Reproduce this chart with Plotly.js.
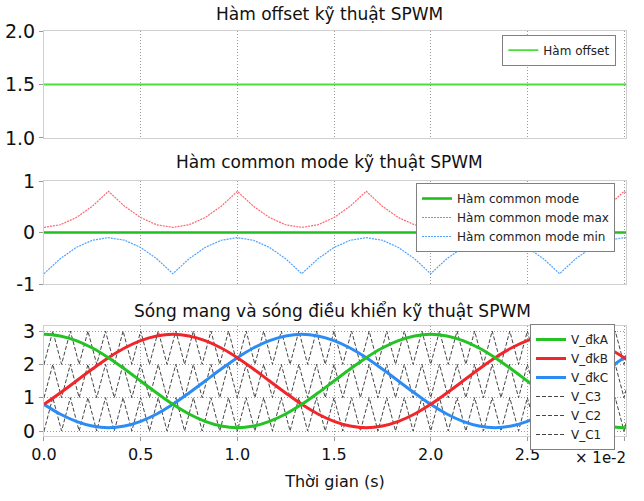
<!DOCTYPE html>
<html>
<head>
<meta charset="utf-8">
<script src="https://cdn.plot.ly/plotly-3.0.1.min.js"></script>
<style>html,body{margin:0;padding:0;background:#fff;}#chart{width:644px;height:501px;}</style>
</head>
<body>
<div id="chart"></div>
<script>
// Time samples, in units of 1e-2 s
const tAxis = [0, 0.0833, 0.1667, 0.25, 0.3333, 0.4167, 0.5, 0.5833, 0.6667, 0.75, 0.8333, 0.9167,
  1.0, 1.0833, 1.1667, 1.25, 1.3333, 1.4167, 1.5, 1.5833, 1.6667, 1.75, 1.8333, 1.9167,
  2.0, 2.0833, 2.1667, 2.25, 2.3333, 2.4167, 2.5, 2.5833, 2.6667, 2.75, 2.8333, 2.9167, 3.0, 3.0833];

// Offset function (constant)
const offsetT = [0, 3.0833];
const offsetY = [1.5, 1.5];

// Common mode functions
const cmT = [0, 3.0833];
const cmY = [0, 0];
const cmMax = [0.10, 0.15, 0.29, 0.51, 0.80, 0.51, 0.29, 0.15, 0.10, 0.15, 0.29, 0.51,
  0.80, 0.51, 0.29, 0.15, 0.10, 0.15, 0.29, 0.51, 0.80, 0.51, 0.29, 0.15,
  0.10, 0.15, 0.29, 0.51, 0.80, 0.51, 0.29, 0.15, 0.10, 0.15, 0.29, 0.51, 0.80, 0.51];
const cmMin = [-0.80, -0.51, -0.29, -0.15, -0.10, -0.15, -0.29, -0.51, -0.80, -0.51, -0.29, -0.15,
  -0.10, -0.15, -0.29, -0.51, -0.80, -0.51, -0.29, -0.15, -0.10, -0.15, -0.29, -0.51,
  -0.80, -0.51, -0.29, -0.15, -0.10, -0.15, -0.29, -0.51, -0.80, -0.51, -0.29, -0.15, -0.10, -0.15];

// Control (modulating) waves
const vA = [2.90, 2.85, 2.71, 2.49, 2.20, 1.86, 1.50, 1.14, 0.80, 0.51, 0.29, 0.15,
  0.10, 0.15, 0.29, 0.51, 0.80, 1.14, 1.50, 1.86, 2.20, 2.49, 2.71, 2.85,
  2.90, 2.85, 2.71, 2.49, 2.20, 1.86, 1.50, 1.14, 0.80, 0.51, 0.29, 0.15, 0.10, 0.15];
const vB = [0.80, 1.14, 1.50, 1.86, 2.20, 2.49, 2.71, 2.85, 2.90, 2.85, 2.71, 2.49,
  2.20, 1.86, 1.50, 1.14, 0.80, 0.51, 0.29, 0.15, 0.10, 0.15, 0.29, 0.51,
  0.80, 1.14, 1.50, 1.86, 2.20, 2.49, 2.71, 2.85, 2.90, 2.85, 2.71, 2.49, 2.20, 1.86];
const vC = [0.80, 0.51, 0.29, 0.15, 0.10, 0.15, 0.29, 0.51, 0.80, 1.14, 1.50, 1.86,
  2.20, 2.49, 2.71, 2.85, 2.90, 2.85, 2.71, 2.49, 2.20, 1.86, 1.50, 1.14,
  0.80, 0.51, 0.29, 0.15, 0.10, 0.15, 0.29, 0.51, 0.80, 1.14, 1.50, 1.86, 2.20, 2.49];

// Carrier vertices (units of 1e-2 s)
const carrierT = [0, 0.0455, 0.0909, 0.1364, 0.1818, 0.2273, 0.2727, 0.3182, 0.3636, 0.4091,
  0.4545, 0.5, 0.5455, 0.5909, 0.6364, 0.6818, 0.7273, 0.7727, 0.8182, 0.8636,
  0.9091, 0.9545, 1.0, 1.0455, 1.0909, 1.1364, 1.1818, 1.2273, 1.2727, 1.3182,
  1.3636, 1.4091, 1.4545, 1.5, 1.5455, 1.5909, 1.6364, 1.6818, 1.7273, 1.7727,
  1.8182, 1.8636, 1.9091, 1.9545, 2.0, 2.0455, 2.0909, 2.1364, 2.1818, 2.2273,
  2.2727, 2.3182, 2.3636, 2.4091, 2.4545, 2.5, 2.5455, 2.5909, 2.6364, 2.6818,
  2.7273, 2.7727, 2.8182, 2.8636, 2.9091, 2.9545, 3.0, 3.0455, 3.0909];
const carrierC1 = [0,1,0,1,0,1,0,1,0,1, 0,1,0,1,0,1,0,1,0,1, 0,1,0,1,0,1,0,1,0,1,
  0,1,0,1,0,1,0,1,0,1, 0,1,0,1,0,1,0,1,0,1, 0,1,0,1,0,1,0,1,0,1, 0,1,0,1,0,1,0,1,0];
const carrierC2 = [1,2,1,2,1,2,1,2,1,2, 1,2,1,2,1,2,1,2,1,2, 1,2,1,2,1,2,1,2,1,2,
  1,2,1,2,1,2,1,2,1,2, 1,2,1,2,1,2,1,2,1,2, 1,2,1,2,1,2,1,2,1,2, 1,2,1,2,1,2,1,2,1];
const carrierC3 = [2,3,2,3,2,3,2,3,2,3, 2,3,2,3,2,3,2,3,2,3, 2,3,2,3,2,3,2,3,2,3,
  2,3,2,3,2,3,2,3,2,3, 2,3,2,3,2,3,2,3,2,3, 2,3,2,3,2,3,2,3,2,3, 2,3,2,3,2,3,2,3,2];

// Tick labels
const xTickVals = [0, 0.5, 1.0, 1.5, 2.0, 2.5, 3.0];
const xTickText = ['0.0', '0.5', '1.0', '1.5', '2.0', '2.5', ''];

const FONT = '"DejaVu Sans", Verdana, sans-serif';
const cGreen = '#22c322', cRed = '#f0262a', cBlue = '#2b8cf5';

const traces = [
  {x: offsetT, y: offsetY, name: 'Hàm offset', mode: 'lines', line: {color: '#4ddd3a', width: 1.8},
   xaxis: 'x', yaxis: 'y', legend: 'legend'},
  {x: tAxis, y: cmMax, name: 'Hàm common mode max', mode: 'lines', line: {color: '#ff6670', width: 1.2, dash: '2px,1px'},
   xaxis: 'x2', yaxis: 'y2', legend: 'legend2', legendrank: 2},
  {x: tAxis, y: cmMin, name: 'Hàm common mode min', mode: 'lines', line: {color: '#4fa3ff', width: 1.2, dash: '2px,1px'},
   xaxis: 'x2', yaxis: 'y2', legend: 'legend2', legendrank: 3},
  {x: cmT, y: cmY, name: 'Hàm common mode', mode: 'lines', line: {color: '#1fbf1f', width: 2.6},
   xaxis: 'x2', yaxis: 'y2', legend: 'legend2', legendrank: 1},
  {x: carrierT, y: carrierC1, name: 'V_C1', mode: 'lines', line: {color: '#454545', width: 1, dash: '4px,2px'},
   xaxis: 'x3', yaxis: 'y3', legend: 'legend3', legendrank: 6},
  {x: carrierT, y: carrierC2, name: 'V_C2', mode: 'lines', line: {color: '#454545', width: 1, dash: '4px,2px'},
   xaxis: 'x3', yaxis: 'y3', legend: 'legend3', legendrank: 5},
  {x: carrierT, y: carrierC3, name: 'V_C3', mode: 'lines', line: {color: '#454545', width: 1, dash: '4px,2px'},
   xaxis: 'x3', yaxis: 'y3', legend: 'legend3', legendrank: 4},
  {x: tAxis, y: vC, name: 'V_đkC', mode: 'lines', line: {color: cBlue, width: 3, shape: 'spline'},
   xaxis: 'x3', yaxis: 'y3', legend: 'legend3', legendrank: 3},
  {x: tAxis, y: vB, name: 'V_đkB', mode: 'lines', line: {color: cRed, width: 3, shape: 'spline'},
   xaxis: 'x3', yaxis: 'y3', legend: 'legend3', legendrank: 2},
  {x: tAxis, y: vA, name: 'V_đkA', mode: 'lines', line: {color: cGreen, width: 3, shape: 'spline'},
   xaxis: 'x3', yaxis: 'y3', legend: 'legend3', legendrank: 1}
];

const xDom = [0.0683, 0.972];
const xRange = [0, 3.01];
function xax(anchor, showLabels) {
  return {
    domain: xDom, range: xRange, anchor: anchor,
    tickvals: xTickVals, ticktext: xTickText,
    showticklabels: showLabels, ticks: showLabels ? 'outside' : '', ticklen: 4, tickcolor: '#999',
    showgrid: true, gridcolor: '#9a9a9a', griddash: '1px,2px', gridwidth: 1,
    showline: true, mirror: true, linecolor: '#d0d0d0', linewidth: 1,
    zeroline: false, tickfont: {size: 16, color: '#111'}
  };
}
function yax(anchor, dom, range, vals, text) {
  return {
    domain: dom, range: range, anchor: anchor,
    tickvals: vals, ticktext: text,
    ticks: 'outside', ticklen: 4, tickcolor: '#999',
    showgrid: true, gridcolor: '#9a9a9a', griddash: '1px,2px', gridwidth: 1,
    showline: true, mirror: true, linecolor: '#d0d0d0', linewidth: 1,
    zeroline: false, tickfont: {size: 19, color: '#111'}
  };
}
const legendBase = {
  bgcolor: '#ffffff', bordercolor: '#808080', borderwidth: 1,
  font: {family: FONT, size: 12, color: '#222'}, xanchor: 'right', yanchor: 'top',
  itemwidth: 30, tracegroupgap: 0
};

const layout = {
  width: 644, height: 501,
  margin: {l: 0, r: 0, t: 0, b: 0},
  paper_bgcolor: '#ffffff', plot_bgcolor: '#ffffff',
  font: {family: FONT, color: '#111'},
  showlegend: true,
  xaxis: xax('y', false),
  yaxis: yax('x', [0.7246, 0.9381], [1, 2], [1, 1.5, 2], ['1.0', '1.5', '2.0']),
  xaxis2: xax('y2', false),
  yaxis2: yax('x2', [0.4331, 0.6387], [-1, 1], [-1, 0, 1], ['-1', '0', '1']),
  xaxis3: Object.assign(xax('y3', true), {title: {text: 'Thời gian (s)', font: {size: 16, color: '#111'}, standoff: 12}}),
  yaxis3: yax('x3', [0.1297, 0.3493], [-0.15, 3.15], [0, 1, 2, 3], ['0', '1', '2', '3']),
  legend: Object.assign({}, legendBase, {x: 0.957, y: 0.931}),
  legend2: Object.assign({}, legendBase, {x: 0.955, y: 0.6347}),
  legend3: Object.assign({}, legendBase, {x: 0.955, y: 1 - 324 / 501}),
  annotations: [
    {text: 'Hàm offset kỹ thuật SPWM', xref: 'paper', yref: 'paper', x: 0.512, y: 1 - 14 / 501,
     showarrow: false, font: {size: 17, color: '#111'}, xanchor: 'center', yanchor: 'middle'},
    {text: 'Hàm common mode kỹ thuật SPWM', xref: 'paper', yref: 'paper', x: 0.512, y: 1 - 162 / 501,
     showarrow: false, font: {size: 17, color: '#111'}, xanchor: 'center', yanchor: 'middle'},
    {text: 'Sóng mang và sóng điều khiển kỹ thuật SPWM', xref: 'paper', yref: 'paper', x: 0.517, y: 1 - 311 / 501,
     showarrow: false, font: {size: 17, color: '#111'}, xanchor: 'center', yanchor: 'middle'},
    {text: '× 1e-2', xref: 'paper', yref: 'paper', x: 0.932, y: 1 - 458 / 501,
     showarrow: false, font: {size: 15, color: '#111'}, xanchor: 'center', yanchor: 'middle'}
  ]
};

Plotly.newPlot('chart', traces, layout, {staticPlot: true, displayModeBar: false});
</script>
</body>
</html>
